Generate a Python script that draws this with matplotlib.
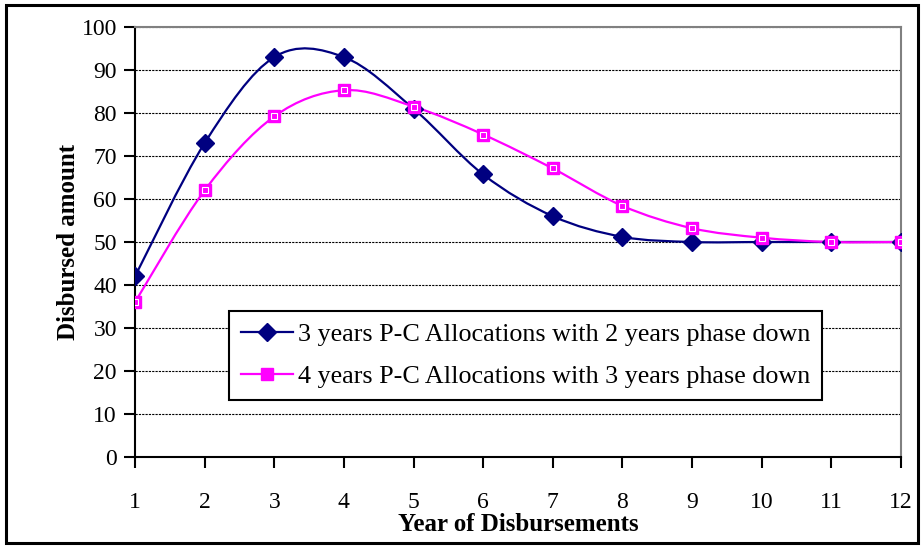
import matplotlib.pyplot as plt
from matplotlib.path import Path
from matplotlib.patches import PathPatch, Rectangle
from matplotlib.lines import Line2D
import numpy as np

plt.rcParams['font.family'] = ['Liberation Serif', 'DejaVu Serif']

years = [1, 2, 3, 4, 5, 6, 7, 8, 9, 10, 11, 12]
phase2 = [42, 73, 93, 93, 81, 65.7, 56, 51.2, 50, 50, 50, 50]
phase3 = [36, 62, 79.2, 85.3, 81.5, 75, 67.1, 58.4, 53.2, 51, 50, 50]
labels = ["3 years P-C Allocations with 2 years phase down",
          "4 years P-C Allocations with 3 years phase down"]
NAVY = '#000080'
MAGENTA = '#FF00FF'


def smooth_path(x, y):
    # Excel-like smoothed line: cubic Bezier segments through the points
    pts = np.column_stack([x, y]).astype(float)
    ext = np.vstack([pts[0], pts, pts[-1]])
    verts = [tuple(pts[0])]
    codes = [Path.MOVETO]
    for i in range(len(pts) - 1):
        p0, p1, p2, p3 = ext[i], ext[i + 1], ext[i + 2], ext[i + 3]
        c1 = p1 + (p2 - p0) / 6
        c2 = p2 - (p3 - p1) / 6
        verts += [tuple(c1), tuple(c2), tuple(p2)]
        codes += [Path.CURVE4] * 3
    return Path(verts, codes)


fig = plt.figure(figsize=(9.24, 5.46), dpi=100)
fig.patches.append(Rectangle((6 / 924, 3 / 546), 912 / 924, 538 / 546,
                             transform=fig.transFigure, fill=False,
                             edgecolor='black', lw=2.2))
ax = fig.add_axes([135 / 924, 89 / 546, 766 / 924, 430 / 546])

ax.add_patch(PathPatch(smooth_path(years, phase2), fill=False,
                       edgecolor=NAVY, lw=1.6, zorder=3))
ax.add_patch(PathPatch(smooth_path(years, phase3), fill=False,
                       edgecolor=MAGENTA, lw=1.6, zorder=3))
ax.plot(years, phase2, ls='none', marker='D', ms=9, color=NAVY, zorder=4)
ax.plot(years, phase3, ls='none', marker='s', ms=9, mfc=MAGENTA,
        mec=MAGENTA, zorder=5)
ax.plot(years, phase3, ls='none', marker='s', ms=5, mfc='none',
        mec='white', mew=0.8, zorder=6)

ax.set_xlim(1, 12)
ax.set_ylim(0, 100)
ax.set_xticks(years)
ax.set_yticks(range(0, 101, 10))
ax.yaxis.grid(True, color='black', ls=(0, (2, 1)), lw=0.8)
ax.set_axisbelow(True)
for s in ['top', 'right']:
    ax.spines[s].set_color('#808080')
    ax.spines[s].set_linewidth(1.5)
for s in ['left', 'bottom']:
    ax.spines[s].set_linewidth(1.5)
ax.tick_params(axis='both', direction='out', length=8, width=1.5,
               labelsize=17)
ax.tick_params(axis='x', pad=17)
ax.tick_params(axis='y', pad=5)
ax.set_xlabel('Year of Disbursements', fontsize=18, fontweight='bold',
              labelpad=0)
ax.set_ylabel('Disbursed amount', fontsize=18, fontweight='bold',
              labelpad=1)

handles = [Line2D([], [], color=NAVY, lw=1.6, marker='D', ms=9),
           Line2D([], [], color=MAGENTA, lw=1.6, marker='s', ms=9,
                  mfc=MAGENTA)]
leg = ax.legend(handles, labels, loc='upper left',
                bbox_to_anchor=(0.1227, 0.3395), borderaxespad=0,
                fontsize=18.8, fancybox=False, framealpha=1,
                handlelength=2.0, handletextpad=0.2, borderpad=0.45,
                labelspacing=0.72)
leg.get_frame().set_edgecolor('black')
leg.get_frame().set_linewidth(1.5)

fig.savefig('out.png', dpi=100)
